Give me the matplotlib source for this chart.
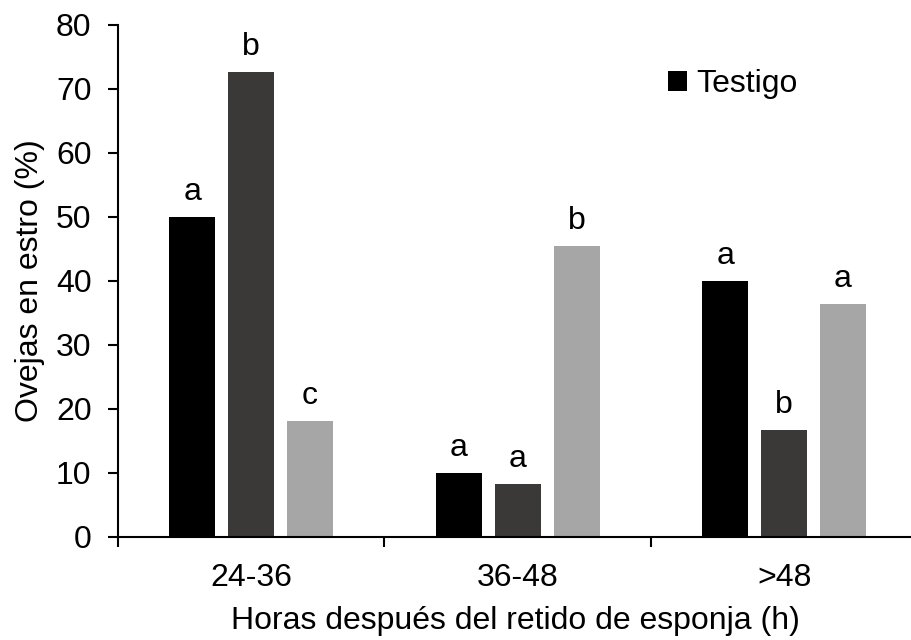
import numpy as np
import matplotlib.pyplot as plt
from matplotlib.ticker import FixedLocator

plt.rcParams['font.family'] = ['Liberation Sans', 'DejaVu Sans']

# datos
grupos = ["24-36", "36-48", ">48"]
testigo = [50.0, 10.0, 40.0]
trat_1 = [72.7, 8.3, 16.7]
trat_2 = [18.2, 45.5, 36.4]
letras_testigo = ["a", "a", "a"]
letras_1 = ["b", "a", "b"]
letras_2 = ["c", "b", "a"]

series = [
    (testigo, letras_testigo, "#000000", "Testigo"),
    (trat_1, letras_1, "#3a3938", "_nolegend_"),
    (trat_2, letras_2, "#a6a6a6", "_nolegend_"),
]

fig = plt.figure(figsize=(9.12, 6.4), dpi=100)
ax = fig.add_axes([118 / 912, 1 - 537 / 640, 1 - 118 / 912, (537 - 25) / 640])

x = np.arange(len(grupos))
ancho = 0.1725
paso = 0.221
for i, (vals, letras, color, nombre) in enumerate(series):
    pos = x + (i - 1) * paso
    ax.bar(pos, vals, width=ancho, color=color, label=nombre, zorder=2)
    for px, v, l in zip(pos, vals, letras):
        ax.annotate(l, (px, v), xytext=(0, 7), textcoords="offset points",
                    ha="center", va="bottom", fontsize=23)

ax.set_xlim(-0.5, 2.48)
ax.set_ylim(0, 80)
ax.set_yticks(range(0, 81, 10))
ax.set_xticks(x)
ax.set_xticklabels(grupos)
ax.xaxis.set_minor_locator(FixedLocator([-0.5, 0.5, 1.5, 2.5]))

for s in ["top", "right"]:
    ax.spines[s].set_visible(False)
for s in ["left", "bottom"]:
    ax.spines[s].set_linewidth(1.5)

ax.tick_params(axis="y", direction="out", length=7, width=1.5, labelsize=23, pad=12)
ax.tick_params(axis="x", which="major", length=0, labelsize=23, pad=19)
ax.tick_params(axis="x", which="minor", direction="out", length=7, width=1.5)

ax.set_ylabel("Ovejas en estro (%)", fontsize=23, labelpad=8)
ax.set_xlabel("Horas después del retido de esponja (h)", fontsize=23, labelpad=9)

ax.legend(loc="center left", bbox_to_anchor=(668 / 912, 1 - 84 / 640),
          bbox_transform=fig.transFigure, frameon=False, fontsize=23,
          handlelength=0.6, handleheight=0.6, handletextpad=0.3,
          borderpad=0, borderaxespad=0)

fig.savefig("out.png", dpi=100)
